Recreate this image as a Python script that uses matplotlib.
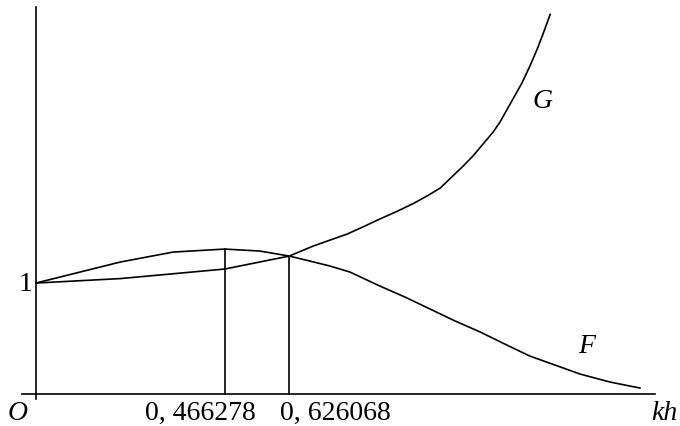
import matplotlib
matplotlib.use("Agg")
import matplotlib.pyplot as plt

# Data
kh_F = [0.0, 0.208, 0.339, 0.466278, 0.554, 0.626068, 0.677, 0.727, 0.776, 0.850, 0.912,
        0.974, 1.036, 1.098, 1.159, 1.221, 1.283, 1.345, 1.419, 1.493]
F_vals = [1.0, 1.189, 1.279, 1.306, 1.288, 1.243, 1.198, 1.153, 1.099, 0.973, 0.874,
          0.766, 0.658, 0.559, 0.450, 0.342, 0.261, 0.180, 0.108, 0.054]

kh_G = [0.0, 0.208, 0.466278, 0.626068, 0.685, 0.727, 0.769, 0.808, 0.850, 0.892, 0.932,
        0.967, 0.999, 1.056, 1.080, 1.130, 1.147, 1.179, 1.201, 1.221, 1.239, 1.253, 1.271]
G_vals = [1.0, 1.040, 1.126, 1.243, 1.333, 1.387, 1.441, 1.505, 1.577, 1.645, 1.715,
          1.785, 1.855, 2.054, 2.144, 2.360, 2.450, 2.658, 2.800, 2.955, 3.108, 3.240, 3.420]

marks = [0.466278, 0.626068]
mark_heights = [1.306, 1.243]
mark_labels = ["0, 466278", "0, 626068"]

fig = plt.figure(figsize=(6.8, 4.27), dpi=100)
ax = fig.add_axes([0, 0, 1, 1])
ax.set_xlim(-0.089, 1.592)
ax.set_ylim(-0.288, 3.559)
ax.axis("off")

lw = 1.2
# axes
ax.plot([-0.035, 1.53], [0, 0], color="black", lw=lw)
ax.plot([0, 0], [-0.045, 3.486], color="black", lw=lw)

ax.plot(kh_F, F_vals, color="black", lw=lw)
ax.plot(kh_G, G_vals, color="black", lw=lw)

for xm, hm in zip(marks, mark_heights):
    ax.plot([xm, xm], [0, hm], color="black", lw=lw)

serif = "Liberation Serif"
fs = 20
ty = -0.165
ax.text(-0.026, 1.0, "1", family=serif, fontsize=fs, ha="center", va="center")
ax.text(-0.0445, ty, "O", family=serif, style="italic", fontsize=fs, ha="center", va="center")
ax.text(0.2695, ty, mark_labels[0], family=serif, fontsize=fs, ha="left", va="center")
ax.text(0.603, ty, mark_labels[1], family=serif, fontsize=fs, ha="left", va="center")
ax.text(1.251, 2.649, "G", family=serif, style="italic", fontsize=fs, ha="center", va="center")
ax.text(1.362, 0.441, "F", family=serif, style="italic", fontsize=fs, ha="center", va="center")
ax.text(1.553, ty, "kh", family=serif, style="italic", fontsize=fs, ha="center", va="center")

fig.savefig("out.png", dpi=100, facecolor="white")
